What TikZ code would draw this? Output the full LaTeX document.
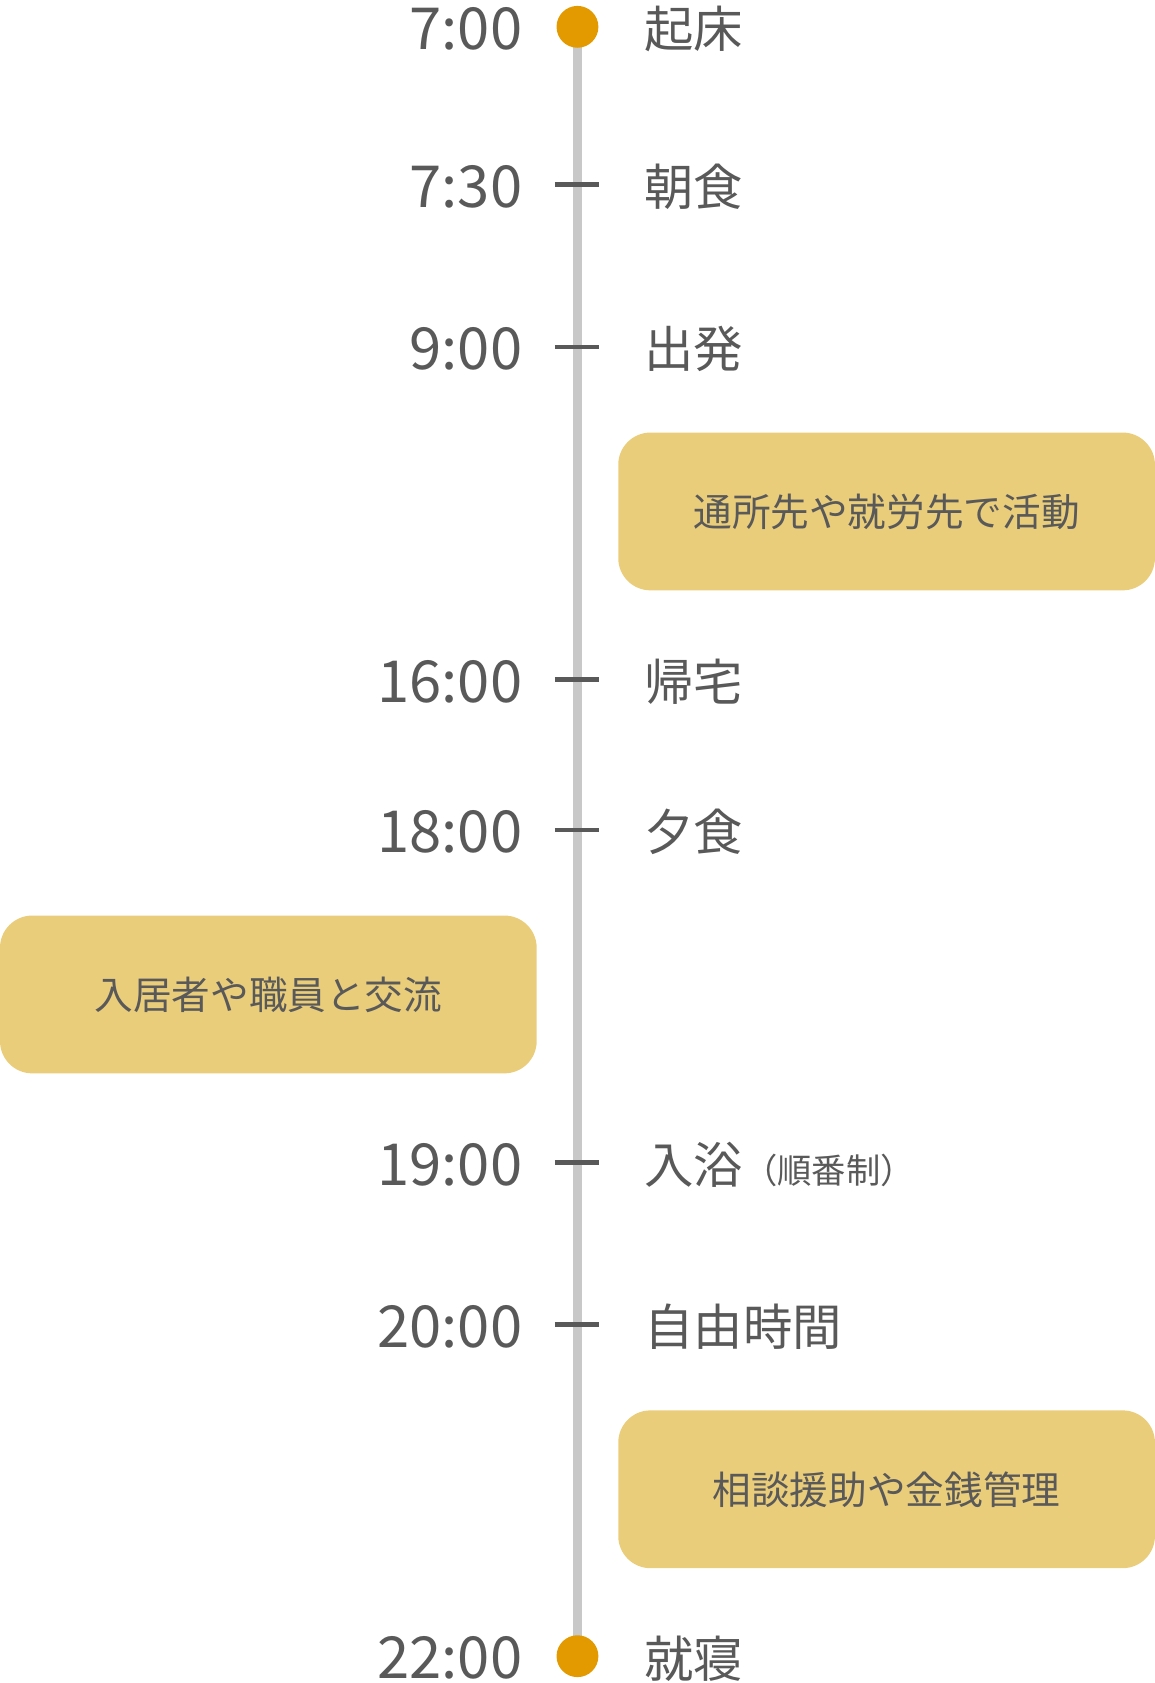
\documentclass[tikz,border=0pt]{standalone}
\usepackage{fontspec}
\newfontfamily\cjk{Noto Sans CJK JP}
\definecolor{txt}{HTML}{595959}
\definecolor{dot}{HTML}{E39A00}
\definecolor{boxc}{HTML}{EACD7A}
\definecolor{linec}{HTML}{C8C8C8}
\begin{document}
\begin{tikzpicture}[x=0.5pt,y=-0.5pt,
  time/.style={anchor=east,font=\cjk\fontsize{27}{30}\selectfont,text=txt,inner sep=0},
  lab/.style={anchor=west,font=\cjk\fontsize{23}{26}\selectfont,text=txt,inner sep=0},
  tick/.style={draw=txt,line width=2pt},
  dotn/.style={circle,fill=dot,minimum size=19.5pt,inner sep=0},
  box/.style={fill=boxc,rounded corners=15pt,minimum width=250pt,minimum height=73.5pt,font=\cjk\fontsize{18}{20}\selectfont,text=txt}]
\useasboundingbox (0,0) rectangle (1076,1568);
\coordinate (top) at (538,25);
\coordinate (bot) at (538,1543);
\draw[linec,line width=4pt] (top) -- (bot);
\node[dotn] (d1) at (top) {};
\node[dotn] (d2) at (bot) {};
\foreach \y/\n in {172/a,323/b,633/c,773/d,1083/e,1234/f}{
  \coordinate (l\n) at (517,\y); \coordinate (r\n) at (558,\y);
  \draw[tick] (l\n) -- (r\n);}
\node[time] (t1) at (487,27) {7:00};
\node[time] (t2) at (487,174) {7:30};
\node[time] (t3) at (487,325) {9:00};
\node[time] (t4) at (487,635) {16:00};
\node[time] (t5) at (487,775) {18:00};
\node[time] (t6) at (487,1085) {19:00};
\node[time] (t7) at (487,1236) {20:00};
\node[time] (t8) at (487,1545) {22:00};
\node[lab] (s1) at (600,27) {起床};
\node[lab] (s2) at (600,174) {朝食};
\node[lab] (s3) at (600,325) {出発};
\node[lab] (s4) at (600,635) {帰宅};
\node[lab] (s5) at (600,775) {夕食};
\node[lab] (s6) at (600,1085) {入浴{\fontsize{16}{18}\selectfont（順番制）}};
\node[lab] (s7) at (600,1236) {自由時間};
\node[lab] (s8) at (600,1545) {就寝};
\node[box] (b1) at (826,476.5) {通所先や就労先で活動};
\node[box] (b2) at (250,926.5) {入居者や職員と交流};
\node[box] (b3) at (826,1387.5) {相談援助や金銭管理};
\end{tikzpicture}
\end{document}
